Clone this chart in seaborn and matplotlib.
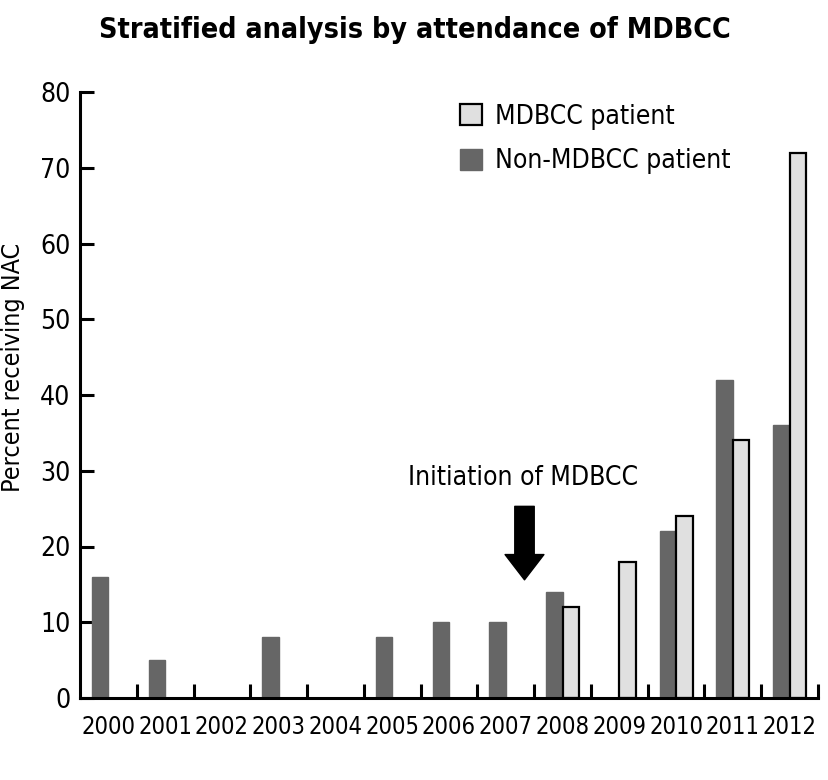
import matplotlib
matplotlib.use("Agg")
import matplotlib.pyplot as plt
from matplotlib.patches import Patch
from matplotlib.ticker import FixedLocator
import seaborn as sns
import pandas as pd

years = ["2000", "2001", "2002", "2003", "2004", "2005", "2006",
         "2007", "2008", "2009", "2010", "2011", "2012"]
non_mdbcc = [16, 5, 0, 8, 0, 8, 10, 10, 14, 0, 22, 42, 36]
mdbcc_years = ["2008", "2009", "2010", "2011", "2012"]
mdbcc = [12, 18, 24, 34, 72]

title = "Stratified analysis by attendance of MDBCC"
ylabel = "Percent receiving NAC"
annot_text = "Initiation of MDBCC"

sns.set_theme(style="white")
plt.rcParams['font.family'] = ['DejaVu Sans']
plt.rcParams['font.stretch'] = 'condensed'
plt.rcParams['text.color'] = 'black'
plt.rcParams['axes.labelcolor'] = 'black'
plt.rcParams['xtick.color'] = 'black'
plt.rcParams['ytick.color'] = 'black'

rows = [{"year": y, "group": "Non-MDBCC patient", "value": v} for y, v in zip(years, non_mdbcc)]
rows += [{"year": y, "group": "MDBCC patient", "value": v} for y, v in zip(mdbcc_years, mdbcc)]
df = pd.DataFrame(rows)

DARK = "#666666"
LIGHT = "#e0e0e0"

fig = plt.figure(figsize=(8.29, 7.8), dpi=100)
ax = fig.add_axes([80 / 829, 1 - 698 / 780, (818 - 80) / 829, (698 - 92) / 780])

sns.barplot(data=df, x="year", y="value", hue="group", order=years,
            hue_order=["Non-MDBCC patient", "MDBCC patient"],
            palette={"Non-MDBCC patient": DARK, "MDBCC patient": LIGHT},
            width=0.58, saturation=1, errorbar=None, legend=False, ax=ax)

for bar in ax.containers[0]:
    bar.set_edgecolor(DARK)
    bar.set_linewidth(1.0)
for bar in ax.containers[1]:
    bar.set_edgecolor("black")
    bar.set_linewidth(1.6)

ax.set_xlim(-0.5, len(years) - 0.5)
ax.set_ylim(0, 80)
ax.set_yticks(range(0, 81, 10))
ax.set_xlabel("")
ax.set_ylabel(ylabel, fontsize=18)
ax.yaxis.set_label_coords(-0.0745, 0.545)

for s in ["top", "right"]:
    ax.spines[s].set_visible(False)
for s in ["left", "bottom"]:
    ax.spines[s].set_linewidth(2.2)
    ax.spines[s].set_color("black")

ax.tick_params(axis="y", which="major", direction="in", length=10, width=2.2,
               labelsize=19, pad=7, colors="black", left=True)
ax.tick_params(axis="x", which="major", length=0, labelsize=17, pad=12)
ax.xaxis.set_minor_locator(FixedLocator([i + 0.5 for i in range(len(years))]))
ax.tick_params(axis="x", which="minor", direction="in", length=10, width=2.2,
               bottom=True, color="black")
for lab in ax.get_xticklabels() + ax.get_yticklabels():
    lab.set_color("black")

# Title
fig.text(0.5, 1 - 30 / 780, title, ha="center", va="center",
         fontsize=20.5, fontweight="bold")

# Annotation
ax.text(7.3, 29.0, annot_text, ha="center", va="center", fontsize=19)
ax.annotate("", xy=(7.33, 15.6), xytext=(7.33, 25.3),
            arrowprops=dict(arrowstyle="simple,head_width=2.0,head_length=1.3,tail_width=1.0",
                            color="black", shrinkA=0, shrinkB=0, mutation_scale=14))

handles = [Patch(facecolor=LIGHT, edgecolor="black", linewidth=1.6, label="MDBCC patient"),
           Patch(facecolor=DARK, edgecolor=DARK, linewidth=1.0, label="Non-MDBCC patient")]
ax.legend(handles=handles, loc="upper left", bbox_to_anchor=(0.5, 0.998),
          frameon=False, fontsize=19, handlelength=0.85, handleheight=0.85,
          handletextpad=0.5, labelspacing=0.7, borderaxespad=0)

fig.savefig("out.png", dpi=100)
